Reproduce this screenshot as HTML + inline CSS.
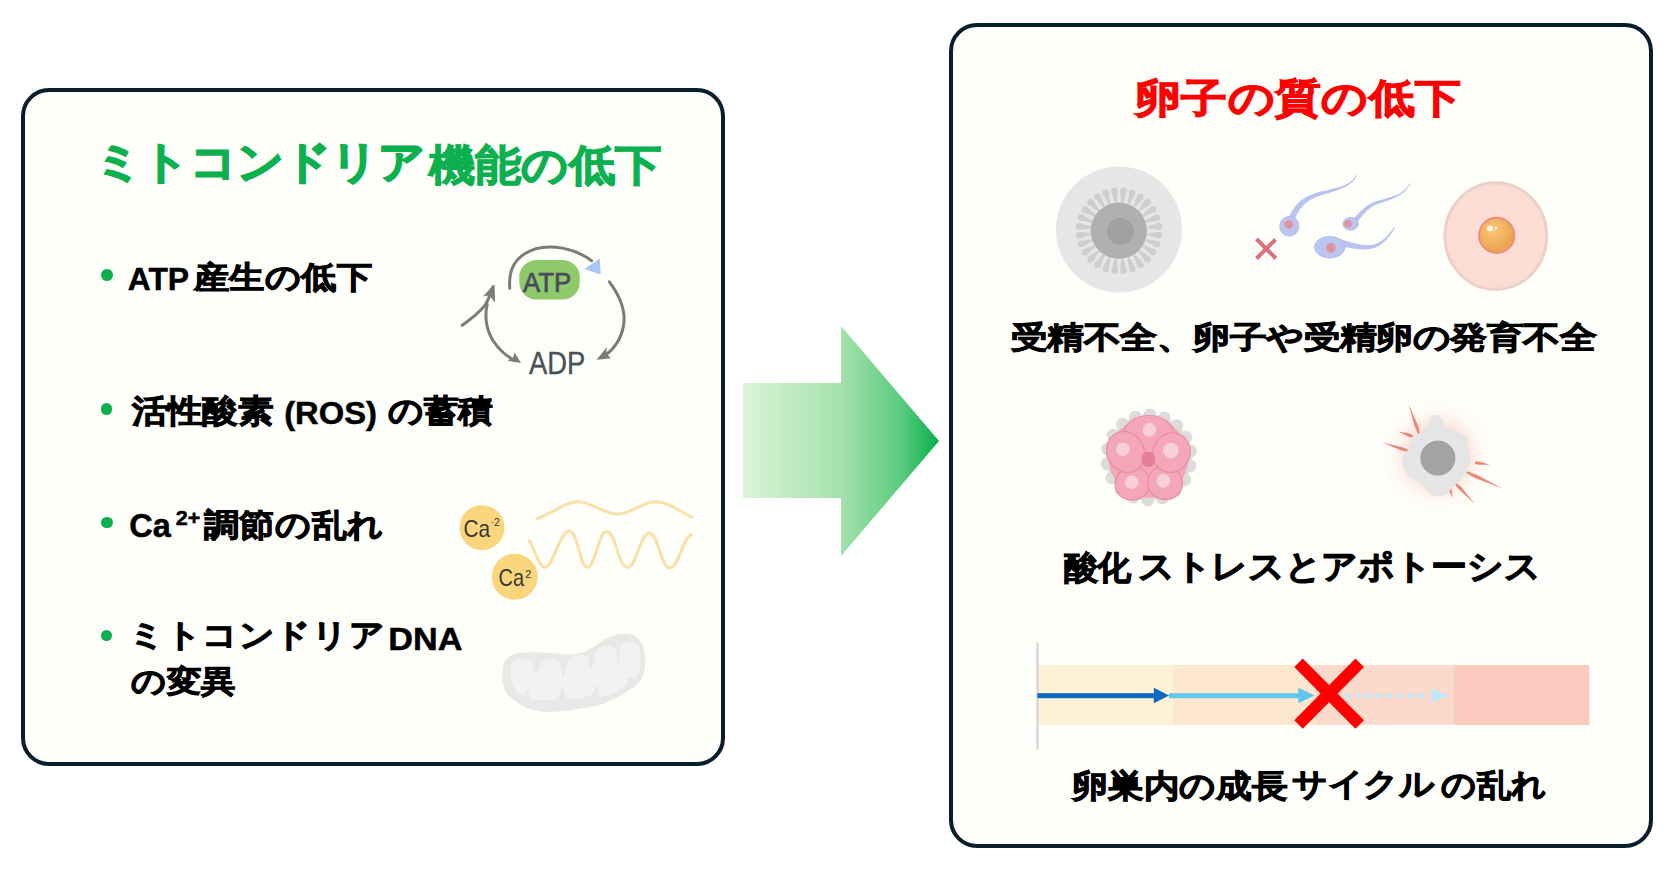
<!DOCTYPE html>
<html lang="ja">
<head>
<meta charset="utf-8">
<style>
html,body{margin:0;padding:0;}
body{width:1670px;height:870px;background:#ffffff;position:relative;overflow:hidden;font-family:"Liberation Sans",sans-serif;}
.box{position:absolute;box-sizing:border-box;border:4px solid #071f2d;border-radius:28px;background:#fefefa;}
.t{position:absolute;white-space:nowrap;font-weight:bold;line-height:1;transform-origin:0 0;color:#000;}
.lat{font-family:"Liberation Sans",sans-serif;-webkit-text-stroke:0.5px currentColor;}
.cj{-webkit-text-stroke:1.1px currentColor;}
#t1b,#t2{-webkit-text-stroke:1.3px currentColor;}
#t1{-webkit-text-stroke:1.9px currentColor;}
.dot{position:absolute;width:11.6px;height:11.6px;border-radius:50%;background:#0bb04d;}
svg{position:absolute;overflow:visible;}
</style>
</head>
<body>
<div class="box" style="left:21px;top:88px;width:704px;height:678px;"></div>
<div class="box" style="left:949px;top:23px;width:704px;height:825px;"></div>

<!-- big arrow -->
<svg style="left:0;top:0" width="1670" height="870">
<defs>
<linearGradient id="ag" x1="743" y1="0" x2="939" y2="0" gradientUnits="userSpaceOnUse">
<stop offset="0" stop-color="#dcf4d6"/>
<stop offset="0.5" stop-color="#a4e1ad"/>
<stop offset="0.8" stop-color="#5ccc80"/>
<stop offset="1" stop-color="#08ae4c"/>
</linearGradient>
</defs>
<polygon points="743,383 841,383 841,326 939,441 841,556 841,498 743,498" fill="url(#ag)"/>
</svg>

<!-- illustrations -->
<svg style="left:0;top:0" width="1670" height="870">
<defs>
<radialGradient id="glow" cx="1437" cy="456" r="58" gradientUnits="userSpaceOnUse">
<stop offset="0" stop-color="#f8b0a0" stop-opacity="0.85"/>
<stop offset="0.5" stop-color="#fac0b0" stop-opacity="0.45"/>
<stop offset="0.75" stop-color="#fcd8cc" stop-opacity="0.18"/>
<stop offset="1" stop-color="#fde6dc" stop-opacity="0"/>
</radialGradient>
<radialGradient id="yolk" cx="1493" cy="230" r="20" gradientUnits="userSpaceOnUse">
<stop offset="0" stop-color="#f8c878"/>
<stop offset="1" stop-color="#eea650"/>
</radialGradient>
</defs>

<!-- ATP cycle -->
<g fill="none" stroke="#7c7b78" stroke-width="3" stroke-linecap="round">
<path d="M509.7,288.3 C508.5,270 514,256 535.4,248.8 C552,244.5 575,248 591.7,260.9"/>
<path d="M609.4,281.8 C620,296 626,312 623.5,326 C621,340 614,349 604.6,355.8"/>
<path d="M487.2,304.3 C484,318 487,332 494,342 C500,351 508,357 515,360.6"/>
<path d="M462.2,325.3 C471,319 480,312 485.6,304.3 C489,298 491.5,292 492.8,287"/>
</g>
<g fill="#7c7b78">
<polygon points="596.5,359.8 607,347 606,353.5 611,358.2"/>
<polygon points="521,363 507.3,360.6 513,358 514.5,352.6"/>
<polygon points="494.4,284.2 483.1,296.3 489.5,295.5 495.2,302.7"/>
</g>
<polygon points="584.5,269 599.8,258.5 600.6,274.6" fill="#a6c5f2"/>
<rect x="519.3" y="260.1" width="60.4" height="39.4" rx="17" ry="17" fill="#8ec96c"/>
<text x="522.9" y="291.5" font-family="Liberation Sans" font-size="28.5" fill="#4c4a5e" stroke="#4c4a5e" stroke-width="0.7" textLength="48.2" lengthAdjust="spacingAndGlyphs">ATP</text>
<text x="529" y="373.5" font-family="Liberation Sans" font-size="31" fill="#474f57" stroke="#474f57" stroke-width="0.35" textLength="56.3" lengthAdjust="spacingAndGlyphs">ADP</text>

<!-- Ca waves -->
<g fill="none" stroke="#fbe0a8" stroke-width="3" stroke-linecap="round">
<path d="M537,518.8 C555,512 565,502 577.4,501.8 C592,501.6 603,514 617.8,514 C632,514 642,501.8 655,501.8 C668,501.8 680,511 691.4,517.2"/>
<path d="M529,540.6 C535,548 538,567.3 545,567.3 C553,567.3 560,531 569.3,531 C578,531 580,567.3 587,567.3 C596,567.3 598,531.5 606.5,531.5 C616,531.5 618,567.3 627.5,567.3 C637,567.3 640,533 649.4,533 C658,533 661,568 669.6,568 C679,568 682,538 691.4,535"/>
</g>
<circle cx="482" cy="527.7" r="22.5" fill="#f9d67c"/>
<circle cx="514.7" cy="576.8" r="23" fill="#f9d67c"/>
<text x="463.4" y="537.4" font-family="Liberation Sans" font-size="24" fill="#3a3636" textLength="26.6" lengthAdjust="spacingAndGlyphs">Ca</text>
<text x="490.5" y="525.5" font-family="Liberation Sans" font-size="10.5" fill="#3a3636">·2</text>
<text x="498.5" y="585.9" font-family="Liberation Sans" font-size="24" fill="#3a3636" textLength="25.5" lengthAdjust="spacingAndGlyphs">Ca</text>
<text x="525.2" y="577.5" font-family="Liberation Sans" font-size="11" fill="#3a3636">2</text>

<!-- mitochondria -->
<path d="M515.9,653.4 C540,650 560,656 576.6,654.1 C590,652 596,643 610,637 C620,633 632,632 638.6,639 C646,647 646.5,662 644.1,672 C641,682 636,686 631.7,688.6 C622,696 612,700 604.1,703.8 C595,707 585,708 576.6,709.3 C566,711 556,712 549,712.1 C538,712 528,709 521.4,705.2 C512,699 506,694 504.8,690 C502,683 502,676 502.8,670.7 C503,664 505,660 507.6,658.3 C510,655.5 513,654 515.9,653.4 Z" fill="#e8e8e6"/>
<path d="M514,660 C520,657 528,659 532,663 L536,676 L541,663 C546,657 556,657 560,663 L563,678 L568,661 C573,655 582,654 588,657 L591,671 L595,654 C600,645 610,643 616,650 L618,664 L621,646 C626,640 636,641 639,647 C642,656 641,668 636,679 L628,677 L627,684 C618,692 606,697 600,697 L598,684 L591,695 C582,699 572,699 566,698 L563,684 L558,699 C548,701 536,701 530,699 L528,688 L524,696 C516,692 512,686 511,678 C510,671 510,664 514,660 Z" fill="#f2f2f0"/>

<!-- oocyte -->
<circle cx="1119" cy="229.5" r="63" fill="#e6e6e6"/>
<g fill="#cecece"><circle cx="1123.5" cy="190.8" r="3.2"/><polygon points="1123.3,202.6 1126.7,191.1 1120.3,190.4 1121.1,202.4"/><circle cx="1132.3" cy="192.8" r="3.2"/><polygon points="1129.5,204.3 1135.3,193.8 1129.3,191.7 1127.4,203.5"/><circle cx="1140.4" cy="196.7" r="3.2"/><polygon points="1135.1,207.3 1143.2,198.4 1137.7,195.0 1133.2,206.1"/><circle cx="1147.5" cy="202.3" r="3.2"/><polygon points="1139.9,211.4 1149.8,204.6 1145.2,200.0 1138.4,209.9"/><circle cx="1153.1" cy="209.4" r="3.2"/><polygon points="1143.7,216.6 1154.8,212.1 1151.4,206.6 1142.5,214.7"/><circle cx="1157.0" cy="217.5" r="3.2"/><polygon points="1146.3,222.4 1158.1,220.5 1156.0,214.5 1145.5,220.3"/><circle cx="1159.0" cy="226.3" r="3.2"/><polygon points="1147.4,228.7 1159.4,229.5 1158.7,223.1 1147.2,226.5"/><circle cx="1159.0" cy="235.3" r="3.2"/><polygon points="1147.2,235.1 1158.7,238.5 1159.4,232.1 1147.4,232.9"/><circle cx="1157.0" cy="244.1" r="3.2"/><polygon points="1145.5,241.3 1156.0,247.1 1158.1,241.1 1146.3,239.2"/><circle cx="1153.1" cy="252.2" r="3.2"/><polygon points="1142.5,246.9 1151.4,255.0 1154.8,249.5 1143.7,245.0"/><circle cx="1147.5" cy="259.3" r="3.2"/><polygon points="1138.4,251.7 1145.2,261.6 1149.8,257.0 1139.9,250.2"/><circle cx="1140.4" cy="264.9" r="3.2"/><polygon points="1133.2,255.5 1137.7,266.6 1143.2,263.2 1135.1,254.3"/><circle cx="1132.3" cy="268.8" r="3.2"/><polygon points="1127.4,258.1 1129.3,269.9 1135.3,267.8 1129.5,257.3"/><circle cx="1123.5" cy="270.8" r="3.2"/><polygon points="1121.1,259.2 1120.3,271.2 1126.7,270.5 1123.3,259.0"/><circle cx="1114.5" cy="270.8" r="3.2"/><polygon points="1114.7,259.0 1111.3,270.5 1117.7,271.2 1116.9,259.2"/><circle cx="1105.7" cy="268.8" r="3.2"/><polygon points="1108.5,257.3 1102.7,267.8 1108.7,269.9 1110.6,258.1"/><circle cx="1097.6" cy="264.9" r="3.2"/><polygon points="1102.9,254.3 1094.8,263.2 1100.3,266.6 1104.8,255.5"/><circle cx="1090.5" cy="259.3" r="3.2"/><polygon points="1098.1,250.2 1088.2,257.0 1092.8,261.6 1099.6,251.7"/><circle cx="1084.9" cy="252.2" r="3.2"/><polygon points="1094.3,245.0 1083.2,249.5 1086.6,255.0 1095.5,246.9"/><circle cx="1081.0" cy="244.1" r="3.2"/><polygon points="1091.7,239.2 1079.9,241.1 1082.0,247.1 1092.5,241.3"/><circle cx="1079.0" cy="235.3" r="3.2"/><polygon points="1090.6,232.9 1078.6,232.1 1079.3,238.5 1090.8,235.1"/><circle cx="1079.0" cy="226.3" r="3.2"/><polygon points="1090.8,226.5 1079.3,223.1 1078.6,229.5 1090.6,228.7"/><circle cx="1081.0" cy="217.5" r="3.2"/><polygon points="1092.5,220.3 1082.0,214.5 1079.9,220.5 1091.7,222.4"/><circle cx="1084.9" cy="209.4" r="3.2"/><polygon points="1095.5,214.7 1086.6,206.6 1083.2,212.1 1094.3,216.6"/><circle cx="1090.5" cy="202.3" r="3.2"/><polygon points="1099.6,209.9 1092.8,200.0 1088.2,204.6 1098.1,211.4"/><circle cx="1097.6" cy="196.7" r="3.2"/><polygon points="1104.8,206.1 1100.3,195.0 1094.8,198.4 1102.9,207.3"/><circle cx="1105.7" cy="192.8" r="3.2"/><polygon points="1110.6,203.5 1108.7,191.7 1102.7,193.8 1108.5,204.3"/><circle cx="1114.5" cy="190.8" r="3.2"/><polygon points="1116.9,202.4 1117.7,190.4 1111.3,191.1 1114.7,202.6"/></g>
<circle cx="1118.8" cy="230.8" r="28.2" fill="#b0b0b0"/>
<circle cx="1120.5" cy="231.5" r="13.5" fill="#a0a0a0"/>

<!-- sperm -->
<g fill="#b8c3ef"><polygon points="1294.0,221.3 1294.3,220.4 1294.7,219.5 1295.0,218.7 1295.4,217.8 1295.7,217.0 1296.1,216.2 1296.4,215.5 1296.8,214.7 1297.2,214.0 1297.6,213.2 1298.0,212.5 1298.4,211.8 1298.8,211.1 1299.2,210.4 1299.7,209.8 1300.1,209.1 1300.6,208.5 1301.1,207.9 1301.5,207.3 1302.1,206.7 1302.6,206.1 1303.1,205.5 1303.7,205.0 1304.3,204.4 1304.8,203.9 1305.5,203.3 1306.1,202.8 1306.8,202.3 1307.4,201.8 1308.1,201.3 1308.9,200.8 1309.6,200.4 1310.4,199.9 1311.2,199.4 1312.1,199.0 1312.9,198.6 1313.8,198.1 1314.7,197.7 1315.7,197.3 1316.7,196.9 1317.5,196.6 1318.4,196.3 1319.3,196.0 1320.2,195.7 1321.1,195.4 1322.0,195.1 1322.9,194.8 1323.8,194.5 1324.8,194.2 1325.7,193.9 1326.6,193.6 1327.5,193.3 1328.5,193.1 1329.4,192.8 1330.3,192.5 1331.2,192.2 1332.2,191.9 1333.1,191.6 1334.0,191.3 1334.9,191.1 1335.8,190.8 1336.7,190.5 1337.5,190.1 1338.4,189.8 1339.3,189.5 1340.1,189.2 1341.0,188.9 1341.8,188.5 1342.6,188.2 1343.4,187.8 1344.2,187.4 1345.0,187.1 1345.7,186.7 1346.4,186.3 1347.2,185.9 1347.9,185.5 1348.5,185.0 1349.2,184.6 1349.8,184.1 1350.5,183.6 1350.8,183.4 1351.1,183.1 1351.3,182.9 1351.6,182.7 1351.9,182.4 1352.1,182.2 1352.4,181.9 1352.6,181.7 1352.9,181.5 1353.1,181.2 1353.3,181.0 1353.5,180.8 1353.8,180.5 1354.0,180.3 1354.2,180.1 1354.4,179.8 1354.5,179.6 1354.7,179.4 1354.9,179.1 1355.1,178.9 1355.2,178.7 1355.4,178.5 1355.5,178.2 1355.7,178.0 1355.8,177.8 1356.0,177.6 1356.1,177.3 1356.2,177.1 1356.3,176.9 1356.5,176.7 1356.6,176.5 1356.7,176.3 1356.8,176.1 1356.9,175.9 1357.0,175.6 1357.1,175.4 1357.1,175.2 1357.2,175.0 1357.3,174.8 1357.4,174.7 1356.6,174.3 1356.5,174.5 1356.5,174.7 1356.4,174.9 1356.3,175.1 1356.2,175.3 1356.1,175.5 1356.0,175.6 1355.9,175.8 1355.8,176.0 1355.6,176.2 1355.5,176.4 1355.4,176.6 1355.3,176.8 1355.1,177.0 1355.0,177.2 1354.8,177.4 1354.7,177.6 1354.5,177.8 1354.4,178.0 1354.2,178.2 1354.0,178.4 1353.8,178.6 1353.6,178.8 1353.5,179.0 1353.3,179.2 1353.1,179.5 1352.8,179.7 1352.6,179.9 1352.4,180.1 1352.2,180.3 1351.9,180.5 1351.7,180.7 1351.5,180.9 1351.2,181.1 1350.9,181.3 1350.7,181.5 1350.4,181.7 1350.1,182.0 1349.8,182.2 1349.5,182.4 1348.9,182.8 1348.3,183.2 1347.7,183.6 1347.0,183.9 1346.3,184.3 1345.6,184.6 1344.9,184.9 1344.1,185.3 1343.4,185.6 1342.6,185.9 1341.8,186.2 1341.0,186.4 1340.2,186.7 1339.4,187.0 1338.5,187.2 1337.7,187.5 1336.8,187.7 1335.9,188.0 1335.0,188.2 1334.1,188.4 1333.2,188.7 1332.3,188.9 1331.4,189.1 1330.5,189.3 1329.5,189.6 1328.6,189.8 1327.7,190.0 1326.7,190.2 1325.8,190.4 1324.8,190.7 1323.9,190.9 1322.9,191.1 1322.0,191.3 1321.0,191.6 1320.1,191.8 1319.1,192.1 1318.2,192.3 1317.2,192.6 1316.3,192.8 1315.3,193.1 1314.2,193.5 1313.2,193.8 1312.2,194.2 1311.2,194.6 1310.2,195.0 1309.2,195.5 1308.3,195.9 1307.4,196.4 1306.5,196.8 1305.6,197.3 1304.8,197.8 1304.0,198.4 1303.2,198.9 1302.4,199.4 1301.7,200.0 1300.9,200.6 1300.2,201.2 1299.5,201.8 1298.9,202.4 1298.2,203.1 1297.6,203.7 1296.9,204.4 1296.3,205.1 1295.7,205.8 1295.2,206.5 1294.6,207.2 1294.1,207.9 1293.5,208.7 1293.0,209.5 1292.5,210.2 1292.0,211.0 1291.5,211.8 1291.1,212.7 1290.6,213.5 1290.2,214.3 1289.7,215.2 1289.3,216.1 1288.8,216.9 1288.4,217.8 1288.0,218.7"/><polygon points="1355.9,223.6 1356.4,223.0 1356.9,222.4 1357.4,221.8 1357.9,221.2 1358.4,220.6 1358.8,220.0 1359.3,219.4 1359.8,218.8 1360.2,218.3 1360.7,217.7 1361.2,217.2 1361.6,216.6 1362.1,216.1 1362.5,215.5 1363.0,215.0 1363.4,214.5 1363.9,214.0 1364.4,213.5 1364.8,213.0 1365.3,212.5 1365.8,212.0 1366.2,211.5 1366.7,211.1 1367.2,210.6 1367.7,210.2 1368.2,209.7 1368.7,209.3 1369.3,208.9 1369.8,208.5 1370.4,208.1 1370.9,207.7 1371.5,207.3 1372.1,206.9 1372.7,206.5 1373.3,206.2 1373.9,205.8 1374.6,205.5 1375.2,205.1 1375.9,204.8 1376.6,204.5 1377.4,204.2 1378.3,203.9 1379.1,203.6 1380.0,203.3 1380.8,203.0 1381.7,202.7 1382.5,202.4 1383.4,202.1 1384.2,201.8 1385.0,201.6 1385.8,201.3 1386.6,201.0 1387.4,200.7 1388.2,200.4 1388.9,200.2 1389.7,199.9 1390.4,199.6 1391.2,199.3 1391.9,199.1 1392.6,198.8 1393.3,198.5 1394.0,198.2 1394.7,197.9 1395.4,197.6 1396.1,197.3 1396.7,196.9 1397.4,196.6 1398.0,196.3 1398.6,196.0 1399.2,195.6 1399.8,195.2 1400.4,194.9 1400.9,194.5 1401.5,194.1 1402.0,193.7 1402.5,193.3 1403.0,192.8 1403.5,192.4 1404.0,191.9 1404.5,191.5 1404.8,191.2 1405.0,190.9 1405.3,190.6 1405.6,190.3 1405.8,190.0 1406.1,189.7 1406.3,189.4 1406.6,189.1 1406.8,188.8 1407.0,188.6 1407.3,188.3 1407.5,188.0 1407.7,187.8 1407.9,187.5 1408.1,187.3 1408.3,187.1 1408.4,186.8 1408.6,186.6 1408.8,186.4 1408.9,186.2 1409.1,185.9 1409.2,185.7 1409.4,185.5 1409.5,185.4 1409.6,185.2 1409.8,185.0 1409.9,184.8 1410.0,184.6 1410.1,184.5 1410.2,184.3 1410.3,184.2 1410.4,184.0 1410.5,183.9 1410.5,183.8 1410.6,183.7 1410.7,183.6 1410.7,183.4 1410.8,183.4 1410.9,183.3 1410.9,183.2 1410.3,182.8 1410.3,182.9 1410.2,183.0 1410.1,183.1 1410.1,183.2 1410.0,183.3 1409.9,183.4 1409.8,183.5 1409.8,183.6 1409.7,183.8 1409.6,183.9 1409.5,184.0 1409.3,184.2 1409.2,184.3 1409.1,184.5 1409.0,184.7 1408.8,184.8 1408.7,185.0 1408.5,185.2 1408.4,185.4 1408.2,185.6 1408.0,185.8 1407.9,186.0 1407.7,186.2 1407.5,186.4 1407.3,186.7 1407.1,186.9 1406.9,187.1 1406.7,187.4 1406.5,187.6 1406.2,187.8 1406.0,188.1 1405.7,188.3 1405.5,188.6 1405.2,188.9 1405.0,189.1 1404.7,189.4 1404.4,189.7 1404.1,190.0 1403.8,190.2 1403.5,190.5 1403.1,190.9 1402.6,191.3 1402.1,191.7 1401.6,192.1 1401.1,192.5 1400.6,192.8 1400.1,193.1 1399.5,193.5 1398.9,193.8 1398.4,194.1 1397.8,194.4 1397.2,194.7 1396.5,195.0 1395.9,195.2 1395.3,195.5 1394.6,195.7 1394.0,196.0 1393.3,196.3 1392.6,196.5 1391.9,196.7 1391.2,197.0 1390.4,197.2 1389.7,197.4 1388.9,197.7 1388.2,197.9 1387.4,198.1 1386.6,198.3 1385.8,198.6 1385.0,198.8 1384.2,199.0 1383.4,199.2 1382.5,199.5 1381.7,199.7 1380.8,199.9 1380.0,200.2 1379.1,200.4 1378.2,200.7 1377.3,200.9 1376.4,201.2 1375.4,201.5 1374.6,201.8 1373.9,202.1 1373.1,202.4 1372.4,202.8 1371.7,203.1 1371.0,203.5 1370.3,203.8 1369.6,204.2 1368.9,204.6 1368.3,205.0 1367.7,205.4 1367.0,205.8 1366.4,206.3 1365.8,206.7 1365.3,207.2 1364.7,207.6 1364.1,208.1 1363.5,208.6 1363.0,209.0 1362.5,209.5 1361.9,210.0 1361.4,210.5 1360.9,211.0 1360.3,211.5 1359.8,212.1 1359.3,212.6 1358.8,213.1 1358.3,213.6 1357.8,214.2 1357.3,214.7 1356.8,215.3 1356.3,215.8 1355.8,216.4 1355.2,216.9 1354.7,217.5 1354.2,218.1 1353.7,218.6 1353.2,219.2 1352.7,219.8 1352.1,220.4"/><polygon points="1337.1,245.4 1338.1,245.6 1338.9,245.8 1339.8,245.9 1340.7,246.1 1341.6,246.3 1342.5,246.5 1343.3,246.7 1344.2,246.8 1345.1,247.0 1345.9,247.2 1346.8,247.3 1347.6,247.5 1348.5,247.7 1349.3,247.8 1350.1,248.0 1351.0,248.1 1351.8,248.3 1352.6,248.4 1353.4,248.5 1354.2,248.6 1355.1,248.8 1355.9,248.9 1356.7,249.0 1357.5,249.0 1358.3,249.1 1359.1,249.2 1359.9,249.3 1360.7,249.3 1361.5,249.3 1362.3,249.4 1363.1,249.4 1363.9,249.4 1364.7,249.4 1365.5,249.4 1366.3,249.3 1367.0,249.3 1367.8,249.2 1368.6,249.1 1369.4,249.1 1370.2,249.0 1371.0,248.8 1371.8,248.7 1372.6,248.5 1373.4,248.3 1374.1,248.0 1374.9,247.8 1375.6,247.5 1376.4,247.2 1377.1,246.8 1377.8,246.5 1378.5,246.1 1379.2,245.7 1379.9,245.2 1380.6,244.8 1381.2,244.3 1381.9,243.8 1382.5,243.3 1383.2,242.8 1383.8,242.3 1384.4,241.7 1385.0,241.1 1385.6,240.5 1386.2,239.9 1386.8,239.3 1387.4,238.6 1387.9,238.0 1388.5,237.3 1389.0,236.6 1389.6,235.9 1390.1,235.2 1390.6,234.4 1391.2,233.7 1391.7,232.9 1392.2,232.1 1392.7,231.3 1393.2,230.5 1393.7,229.7 1394.2,228.9 1394.7,228.1 1395.1,227.2 1394.5,226.8 1393.9,227.6 1393.4,228.4 1392.8,229.1 1392.2,229.9 1391.7,230.6 1391.1,231.3 1390.5,232.1 1390.0,232.8 1389.4,233.4 1388.8,234.1 1388.2,234.7 1387.6,235.4 1387.0,236.0 1386.4,236.6 1385.8,237.2 1385.2,237.7 1384.6,238.3 1384.0,238.8 1383.4,239.3 1382.8,239.8 1382.2,240.3 1381.6,240.7 1380.9,241.1 1380.3,241.6 1379.7,241.9 1379.0,242.3 1378.4,242.6 1377.7,243.0 1377.1,243.3 1376.5,243.5 1375.8,243.8 1375.2,244.0 1374.5,244.2 1373.8,244.4 1373.2,244.6 1372.5,244.7 1371.8,244.8 1371.2,244.9 1370.5,245.0 1369.8,245.0 1369.1,245.1 1368.4,245.1 1367.7,245.1 1366.9,245.1 1366.2,245.1 1365.5,245.0 1364.8,245.0 1364.1,244.9 1363.4,244.8 1362.6,244.8 1361.9,244.7 1361.2,244.6 1360.5,244.4 1359.7,244.3 1359.0,244.2 1358.3,244.0 1357.5,243.9 1356.8,243.7 1356.0,243.5 1355.3,243.4 1354.5,243.2 1353.7,243.0 1353.0,242.8 1352.2,242.6 1351.4,242.4 1350.6,242.1 1349.8,241.9 1349.0,241.7 1348.2,241.4 1347.4,241.2 1346.6,241.0 1345.7,240.7 1344.9,240.5 1344.1,240.2 1343.2,239.9 1342.4,239.7 1341.5,239.4 1340.6,239.1 1339.7,238.9 1338.9,238.6"/></g>
<ellipse cx="1289.3" cy="226.3" rx="9.6" ry="9.9" fill="#bac5f0" stroke="#aab6ea" stroke-width="0.8"/>
<ellipse cx="1350.6" cy="223.8" rx="7.8" ry="6.4" fill="#bac5f0" stroke="#aab6ea" stroke-width="0.8"/>
<ellipse cx="1329.7" cy="247.2" rx="15.2" ry="10.8" fill="#bac5f0" stroke="#aab6ea" stroke-width="0.8"/>
<circle cx="1288.7" cy="224.4" r="4.3" fill="#e2929c"/>
<circle cx="1348" cy="223.8" r="3.8" fill="#e2929c"/>
<circle cx="1331" cy="247.8" r="4.8" fill="#e2929c"/>
<g stroke="#d9727b" stroke-width="4">
<line x1="1256.5" y1="239" x2="1276" y2="258.5"/>
<line x1="1275.5" y1="239.5" x2="1256.5" y2="258.5"/>
</g>

<!-- egg -->
<ellipse cx="1495.8" cy="236.1" rx="50.9" ry="53.4" fill="#fddcd4" stroke="#ead2c8" stroke-width="3"/>
<circle cx="1496.7" cy="235.4" r="17.6" fill="url(#yolk)" stroke="#e8907e" stroke-width="2"/>
<circle cx="1490" cy="228.5" r="3" fill="#fff4e4"/>
<circle cx="1496" cy="228" r="1.3" fill="#fff4e4"/>

<!-- embryo -->
<g fill="#dcdcdc"><circle cx="1148.8" cy="457.5" r="43"/><circle cx="1190.0" cy="465.9" r="6.5"/><circle cx="1184.6" cy="479.7" r="6.5"/><circle cx="1175.0" cy="490.7" r="6.5"/><circle cx="1162.2" cy="497.8" r="6.5"/><circle cx="1147.7" cy="500.0" r="6.5"/><circle cx="1133.4" cy="497.1" r="6.5"/><circle cx="1121.0" cy="489.4" r="6.5"/><circle cx="1111.9" cy="477.8" r="6.5"/><circle cx="1107.3" cy="463.8" r="6.5"/><circle cx="1107.6" cy="449.1" r="6.5"/><circle cx="1113.0" cy="435.3" r="6.5"/><circle cx="1122.6" cy="424.3" r="6.5"/><circle cx="1135.4" cy="417.2" r="6.5"/><circle cx="1149.9" cy="415.0" r="6.5"/><circle cx="1164.2" cy="417.9" r="6.5"/><circle cx="1176.6" cy="425.6" r="6.5"/><circle cx="1185.7" cy="437.2" r="6.5"/><circle cx="1190.3" cy="451.2" r="6.5"/></g>
<circle cx="1148.5" cy="458" r="40" fill="#f4a7b9"/>
<g fill="#f4a7b9" stroke="#e98ba3" stroke-width="1.2">
<ellipse cx="1148.8" cy="434" rx="25" ry="18.5"/>
<ellipse cx="1132.5" cy="483.5" rx="17.5" ry="16.5" transform="rotate(-15 1132.5 483.5)"/>
<ellipse cx="1165" cy="483" rx="17.5" ry="16.5" transform="rotate(15 1165 483)"/>
<ellipse cx="1125.5" cy="452" rx="18.5" ry="21" transform="rotate(-25 1125.5 452)"/>
<ellipse cx="1171.5" cy="452.7" rx="18.5" ry="20" transform="rotate(25 1171.5 452.7)"/>
</g>
<g fill="#f9d0d9">
<circle cx="1149.4" cy="429.7" r="6.8"/><circle cx="1122.9" cy="449.3" r="6.8"/><circle cx="1170.9" cy="450.6" r="7.8"/>
<circle cx="1131.7" cy="482.2" r="6.8"/><circle cx="1163.3" cy="480.9" r="6.8"/>
</g>
<ellipse cx="1148.2" cy="459.4" rx="7" ry="7.6" fill="#e67d96"/>

<!-- apoptotic cell -->
<circle cx="1437" cy="456" r="58" fill="url(#glow)"/>
<g fill="#ef8474"><polygon points="1408.6,404.0 1414.8,426.8 1418.0,433.9 1420.0,433.3 1418.0,425.6"/><polygon points="1398.3,431.6 1408.6,436.8 1412.5,437.4 1413.1,435.4 1409.7,433.6"/><polygon points="1382.4,442.6 1401.5,450.4 1408.3,451.9 1408.9,449.9 1402.6,447.2"/><polygon points="1490.0,464.7 1478.8,461.4 1474.9,461.6 1474.7,463.6 1478.4,464.8"/><polygon points="1503.1,488.8 1476.4,474.8 1467.0,471.3 1466.2,473.1 1475.0,477.9"/><polygon points="1474.8,504.0 1461.0,486.8 1455.5,481.9 1454.1,483.3 1458.6,489.1"/><polygon points="1452.8,497.8 1451.3,488.4 1449.6,485.7 1447.6,486.3 1448.0,489.5"/></g>
<path d="M1433,415 C1440,413 1444,420 1445,427 C1450,428 1456,429 1458,433 C1463,434 1470,437 1468,442 C1466,446 1470,452 1471,458 C1470,466 1466,470 1466,474 C1462,478 1460,482 1456,484 C1452,487 1450,490 1448,494 C1440,497 1432,497 1428,492 C1424,486 1420,482 1414,480 C1408,476 1404,472 1403,466 C1401,460 1404,454 1408,450 C1410,444 1412,438 1418,434 C1424,431 1428,426 1430,420 C1431,417 1432,415 1433,415 Z" fill="#e5e5e5"/>
<circle cx="1437.9" cy="458.1" r="17" fill="#a3a3a3" stroke="#9a9a9a" stroke-width="1"/>

<!-- timeline -->
<rect x="1038" y="665" width="136" height="60" fill="#fdf2d6"/>
<rect x="1173.6" y="665" width="142" height="60" fill="#fce7cf"/>
<rect x="1315.4" y="665" width="138" height="60" fill="#fcdacb"/>
<rect x="1453.4" y="665" width="136" height="60" fill="#fccbc0"/>
<rect x="1036.4" y="642.6" width="2.2" height="107" fill="#d7d0dc"/>
<rect x="1037.4" y="693.2" width="118" height="5" fill="#0b6bc0"/>
<polygon points="1153.8,687.8 1169.1,695.6 1153.8,703.3" fill="#0b6bc0"/>
<rect x="1169" y="693.2" width="131" height="5" fill="#5fc6f2"/>
<polygon points="1298.4,687.8 1314.6,695.6 1298.4,703.3" fill="#5fc6f2"/>
<g fill="#bfe8f8"><rect x="1345.5" y="693" width="5" height="5"/><rect x="1356.0" y="693" width="5" height="5"/><rect x="1366.5" y="693" width="5" height="5"/><rect x="1377.0" y="693" width="5" height="5"/><rect x="1387.5" y="693" width="5" height="5"/><rect x="1398.0" y="693" width="5" height="5"/><rect x="1408.5" y="693" width="5" height="5"/><rect x="1419.0" y="693" width="5" height="5"/><polygon points="1431.4,687.9 1448.2,695.4 1431.4,702.8"/></g>
<g stroke="#ff0000" stroke-width="12">
<line x1="1298.5" y1="662.8" x2="1359.7" y2="724.5"/>
<line x1="1359.7" y1="662.8" x2="1298.5" y2="724.5"/>
</g>
</svg>

<!-- texts -->
<div class="t cj" id="t1" style="left:101px;top:138px;font-size:47.5px;color:#0cb04f;transform:translate(-5.65px,2.67px) scale(0.9614,0.9170);">ミトコンドリア</div>
<div class="t cj" id="t1b" style="left:424px;top:138px;font-size:47.5px;color:#0cb04f;transform:translate(4.53px,5.79px) scale(0.9671,0.8960);">機能の低下</div>
<div class="t cj" id="t2" style="left:1130px;top:72px;font-size:47px;color:#ff0000;transform:translate(5.06px,5.82px) scale(0.9862,0.8615);">卵子の質の低下</div>

<div class="dot" style="left:101.1px;top:269.3px"></div>
<div class="dot" style="left:100.8px;top:403px"></div>
<div class="dot" style="left:101.1px;top:516.5px"></div>
<div class="dot" style="left:100.7px;top:629.5px"></div>

<div class="t lat" id="l1a" style="left:126px;top:259px;font-size:33.4px;transform:translate(1.80px,4.08px) scale(0.9531,0.9560);">ATP</div>
<div class="t cj" id="l1b" style="left:190px;top:259px;font-size:36.6px;transform:translate(3.92px,3.63px) scale(0.9580,0.8425);">産生の低下</div>
<div class="t cj" id="l2a" style="left:127px;top:393px;font-size:36.6px;transform:translate(4.61px,3.12px) scale(0.9567,0.8615);">活性酸素</div>
<div class="t lat" id="l2b" style="left:283px;top:398px;font-size:33.4px;transform:translate(1.22px,-0.15px) scale(0.9796,0.9182);">(ROS)</div>
<div class="t cj" id="l2c" style="left:385px;top:393px;font-size:36.6px;transform:translate(2.90px,3.03px) scale(0.9381,0.8641);">の蓄積</div>
<div class="t lat" id="l3a" style="left:127px;top:506px;font-size:33.4px;transform:translate(2.30px,3.53px) scale(0.9727,0.9920);">Ca</div>
<div class="t lat" id="l3b" style="left:174px;top:505px;font-size:22px;transform:translate(1.70px,3.23px) scale(0.9800,0.9353);">2+</div>
<div class="t cj" id="l3c" style="left:200px;top:505px;font-size:36.6px;transform:translate(3.56px,4.53px) scale(0.9638,0.8769);">調節の乱れ</div>
<div class="t cj" id="l4a" style="left:133px;top:619px;font-size:36.6px;transform:translate(-3.94px,0.71px) scale(0.9626,0.8861);">ミトコンドリア</div>
<div class="t lat" id="l4b" style="left:387px;top:624px;font-size:33.4px;transform:translate(1.37px,-0.72px) scale(1.0254,0.9560);">DNA</div>
<div class="t cj" id="l5" style="left:128px;top:662px;font-size:36.6px;transform:translate(3.10px,4.74px) scale(0.9366,0.8450);">の変異</div>

<div class="t cj" id="r1" style="left:1007px;top:318px;font-size:36.8px;transform:translate(3.79px,5.12px) scale(0.9856,0.8293);">受精不全、卵子や受精卵の発育不全</div>
<div class="t cj" id="r2" style="left:1061px;top:549px;font-size:36.4px;transform:translate(2.54px,3.21px) scale(0.9378,0.9081);">酸化</div>
<div class="t cj" id="r2b" style="left:1134px;top:549px;font-size:36.4px;transform:translate(3.80px,0.96px) scale(0.9920,0.9371);">ストレスとアポトーシス</div>
<div class="t cj" id="r3" style="left:1069px;top:765px;font-size:36.7px;transform:translate(3.03px,5.60px) scale(0.9667,0.8667);">卵巣内の成長</div>
<div class="t cj" id="r3b" style="left:1290px;top:765px;font-size:36.7px;transform:translate(2.20px,3.84px) scale(0.9366,0.8611);">サイクル</div>
<div class="t cj" id="r3c" style="left:1439px;top:765px;font-size:36.7px;transform:translate(2.20px,4.77px) scale(0.9363,0.8703);">の乱れ</div>

</body>
</html>
